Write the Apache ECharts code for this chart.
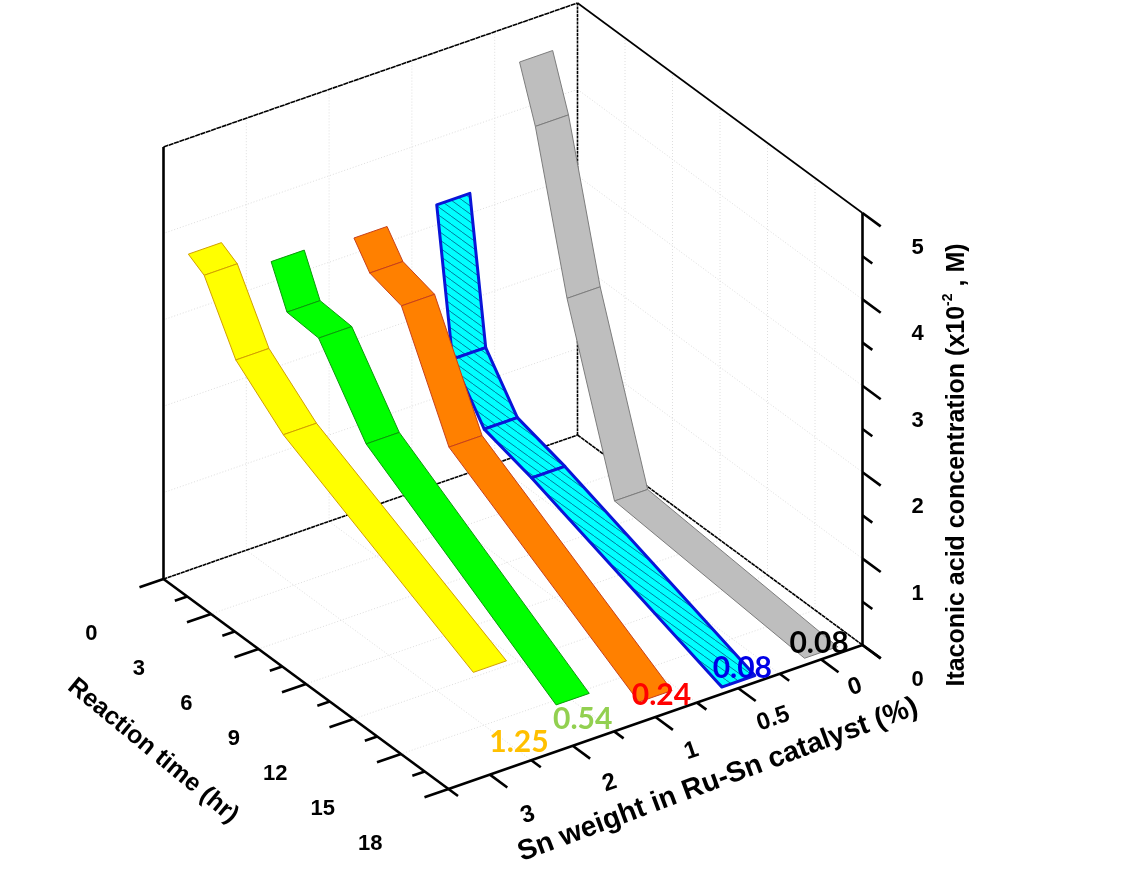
<!DOCTYPE html>
<html>
<head>
<meta charset="utf-8">
<style>html,body{margin:0;padding:0;background:#fff}#c{width:1122px;height:885px}</style>
<script src="https://cdn.jsdelivr.net/npm/echarts@6/dist/echarts.min.js"></script>
</head>
<body>
<div id="c"></div>
<script>
// ---- data ----
const timePoints = [0, 1, 3, 6, 18];
const snCategories = ['0', '0.5', '1', '2', '3'];
const concSn0 = [4.55, 3.94, 2.22, 0.28, 0.08];
const concSn05 = [3.23, 1.58, 1.04, 0.88, 0.08];
const concSn1 = [3.18, 2.91, 2.80, 1.57, 0.24];
const concSn2 = [3.24, 2.79, 2.76, 1.94, 0.54];
const concSn3 = [3.66, 3.55, 2.84, 2.38, 1.25];
const timeTicks = [0, 3, 6, 9, 12, 15, 18];
const concTicks = [0, 1, 2, 3, 4, 5];

// ---- projection of (time, Sn category position, concentration) on the page scale ----
const ORIGIN = [577.5, 435], T_SPAN = [285, 210], S_SPAN = [-414, 144], Z_UNIT = 86.4;
const T_MAX = 18, CAT_COUNT = snCategories.length, Z_MAX = 5;
const project = (t, c, z) => {
  const f = t / T_MAX, s = (c + 0.5) / CAT_COUNT;
  return [ORIGIN[0] + f * T_SPAN[0] + s * S_SPAN[0], ORIGIN[1] + f * T_SPAN[1] + s * S_SPAN[1] - z * Z_UNIT];
};
const C_MIN = -0.5, C_MAX = CAT_COUNT - 0.5, HALF_W = 0.2;
const BLACK = '#000';
const FONT = '"Liberation Sans", Arial, sans-serif';

function hatch() {
  const cv = document.createElement('canvas');
  cv.width = 11; cv.height = 8;
  const g = cv.getContext('2d');
  g.fillStyle = '#00FFFF'; g.fillRect(0, 0, 11, 8);
  g.strokeStyle = 'rgba(0,60,110,0.85)'; g.lineWidth = 0.8;
  g.beginPath(); g.moveTo(-11, -8); g.lineTo(22, 16); g.stroke();
  return cv;
}
const hatchFill = { image: hatch(), repeat: 'repeat' };

const ribbons = [
  { name: 'Sn 0', cat: 0, values: concSn0, fill: '#BEBEBE', stroke: '#7d7d7d', lw: 1, label: BLACK, off: [-2, -9] },
  { name: 'Sn 0.5', cat: 1, values: concSn05, fill: hatchFill, stroke: '#0A14D8', lw: 3, label: '#0000E6', off: [4, -13] },
  { name: 'Sn 1', cat: 2, values: concSn1, fill: '#FF8000', stroke: '#C8401A', lw: 1, label: '#FF0000', off: [6, -1] },
  { name: 'Sn 2', cat: 3, values: concSn2, fill: '#00FF00', stroke: '#0A9A0A', lw: 1, label: '#92D050', off: [10, 20] },
  { name: 'Sn 3', cat: 4, values: concSn3, fill: '#FFFF00', stroke: '#D2A000', lw: 1, label: '#FFC000', off: [29, 76] }
];

const line = (a, b, stroke, lineWidth, lineDash) => ({
  type: 'line', silent: true,
  shape: { x1: a[0], y1: a[1], x2: b[0], y2: b[1] },
  style: { stroke, lineWidth, lineDash: lineDash || null, fill: null }
});
const text = (str, p, size, rot, extra) => ({
  type: 'text', silent: true, x: p[0], y: p[1], rotation: (rot || 0) * Math.PI / 180,
  style: Object.assign({
    text: str, fill: BLACK, fontFamily: FONT, fontWeight: 'bold', fontSize: size,
    align: 'center', verticalAlign: 'middle'
  }, extra || {})
});

function renderGrid(params, api) {
  const P = (t, c, z) => api.coord(project(t, c, z));
  const kids = [], col = '#dedede', dash = [1, 2], w = 1;
  const L = (a, b) => kids.push(line(a, b, col, w, dash));
  const gridCats = [0, 1, 2, 3].map(i => i + 0.5);         // boundaries between categories
  timeTicks.slice(1, -1).forEach(t => {
    L(P(t, C_MIN, 0), P(t, C_MAX, 0));                     // floor
    L(P(t, C_MIN, 0), P(t, C_MIN, Z_MAX));                 // side wall
  });
  gridCats.forEach(c => {
    L(P(0, c, 0), P(T_MAX, c, 0));                         // floor
    L(P(0, c, 0), P(0, c, Z_MAX));                         // back wall
  });
  concTicks.slice(1, -1).forEach(z => {
    L(P(0, C_MIN, z), P(T_MAX, C_MIN, z));
    L(P(0, C_MIN, z), P(0, C_MAX, z));
  });
  return { type: 'group', children: kids };
}

function renderFrame(params, api) {
  const P = (t, c, z) => api.coord(project(t, c, z));
  const kids = [];
  const thin = 1.6, thick = 2.6;
  // box: back edges
  kids.push(line(P(0, C_MAX, 0), P(0, C_MIN, 0), BLACK, thin, [4, 0.6]));
  kids.push(line(P(0, C_MIN, 0), P(T_MAX, C_MIN, 0), BLACK, thin, [4, 0.6]));
  kids.push(line(P(0, C_MIN, 0), P(0, C_MIN, Z_MAX), BLACK, thin, [3, 0.8]));
  kids.push(line(P(0, C_MAX, 0), P(0, C_MAX, Z_MAX), BLACK, thick));
  kids.push(line(P(0, C_MAX, Z_MAX), P(0, C_MIN, Z_MAX), BLACK, thin, [5, 0.6]));
  kids.push(line(P(0, C_MIN, Z_MAX), P(T_MAX, C_MIN, Z_MAX), BLACK, thin));
  // front axes
  kids.push(line(P(0, C_MAX, 0), P(T_MAX, C_MAX, 0), BLACK, thick));
  kids.push(line(P(T_MAX, C_MAX, 0), P(T_MAX, C_MIN, 0), BLACK, thick));
  kids.push(line(P(T_MAX, C_MIN, 0), P(T_MAX, C_MIN, Z_MAX), BLACK, thick));
  // time ticks
  for (let t = 0; t <= T_MAX; t += 1.5) {
    const major = t % 3 === 0;
    kids.push(line(P(t, C_MAX, 0), P(t, C_MAX + (major ? 0.29 : 0.15), 0), BLACK, thick));
  }
  // Sn ticks: major at categories, minor at the boundaries
  for (let i = 0; i < CAT_COUNT; i++) {
    kids.push(line(P(T_MAX, i, 0), P(T_MAX + 1.1, i, 0), BLACK, thick));
    kids.push(line(P(T_MAX, i + 0.5, 0), P(T_MAX + 0.6, i + 0.5, 0), BLACK, thick));
  }
  kids.push(line(P(T_MAX, C_MIN, 0), P(T_MAX + 1.15, C_MIN, 0), BLACK, thick));
  // concentration ticks
  for (let z = 0; z <= Z_MAX; z += 0.5) {
    const major = z % 1 === 0;
    kids.push(line(P(T_MAX, C_MIN, z), P(T_MAX + (major ? 1.15 : 0.62), C_MIN, z), BLACK, thick));
  }
  return { type: 'group', children: kids };
}

function renderTexts(params, api) {
  const P = (t, c, z) => api.coord(project(t, c, z));
  const kids = [], size = 22;
  timeTicks.forEach(t => {
    const p = P(t, C_MAX, 0);
    kids.push(text(String(t), [p[0] - 66, p[1] + 55], size, 0, { align: 'right' }));
  });
  snCategories.forEach((c, i) => {
    const p = P(T_MAX, i, 0);
    kids.push(text(c, [p[0] + 36 + (i - 2), p[1] + 34 + (i - 2) * 3.2], 24, 19));
  });
  concTicks.forEach(z => {
    const p = P(T_MAX, C_MIN, z);
    kids.push(text(String(z), [p[0] + 55, p[1] + 35], size));
  });
  kids.push(text('Reaction time (hr)', api.coord([153, 751]), 25, -39.5));
  kids.push(text('Sn weight in Ru-Sn catalyst (%)', api.coord([718, 780]), 28.4, 20.4));
  kids.push(text('{a|Itaconic acid concentration (x10}{s|-2}{a| , M)}', api.coord([957, 465]), 25, 90, {
    rich: {
      a: { fontFamily: FONT, fontWeight: 'bold', fontSize: 25, fill: BLACK, lineHeight: 32 },
      s: { fontFamily: FONT, fontWeight: 'bold', fontSize: 14, fill: BLACK, verticalAlign: 'top', lineHeight: 32 }
    }
  }));
  return { type: 'group', children: kids };
}

function ribbonRenderer(r) {
  return function (params, api) {
    const i = params.dataIndex;
    if (i >= timePoints.length - 1) return null;
    const P = (t, c, z) => api.coord(project(t, c, z));
    const t0 = api.value(0), z0 = api.value(1), t1 = timePoints[i + 1], z1 = r.values[i + 1];
    const pts = [
      P(t0, r.cat - HALF_W, z0), P(t0, r.cat + HALF_W, z0),
      P(t1, r.cat + HALF_W, z1), P(t1, r.cat - HALF_W, z1)
    ];
    return {
      type: 'polygon', silent: true, shape: { points: pts },
      style: { fill: r.fill, stroke: r.stroke, lineWidth: r.lw, lineJoin: 'round' }
    };
  };
}
function labelRenderer(r) {
  return function (params, api) {
    const i = params.dataIndex;
    if (i !== timePoints.length - 1) return null;
    const p = api.coord(project(api.value(0), r.cat, api.value(1)));
    return text(api.value(1).toFixed(2), [p[0] + r.off[0], p[1] + r.off[1]], 30, 0, {
      fill: r.label, fontFamily: 'Lato, sans-serif'
    });
  };
}

const xy = r => timePoints.map((t, i) => [t, r.values[i]]);
const base = { type: 'custom', coordinateSystem: 'cartesian2d', clip: false, animation: false, silent: true, encode: { x: 0, y: 1 } };

const chart = echarts.init(document.getElementById('c'), null, { renderer: 'canvas', width: 1122, height: 885 });
chart.setOption({
  backgroundColor: '#fff',
  animation: false,
  tooltip: { show: false },
  grid: { left: 0, right: 0, top: 0, bottom: 0, containLabel: false },
  xAxis: { type: 'value', min: 0, max: 1122, show: false },
  yAxis: { type: 'value', min: 0, max: 885, inverse: true, show: false },
  series: [
    Object.assign({}, base, { name: 'grid', data: [[0, 0]], renderItem: renderGrid, z: 1 }),
    Object.assign({}, base, { name: 'frame', data: [[0, 0]], renderItem: renderFrame, z: 2 }),
    ...ribbons.map((r, k) => Object.assign({}, base, { name: r.name, data: xy(r), renderItem: ribbonRenderer(r), z: 3 + k })),
    Object.assign({}, base, { name: 'texts', data: [[0, 0]], renderItem: renderTexts, z: 10 }),
    ...ribbons.map(r => Object.assign({}, base, { name: r.name + ' end', data: xy(r), renderItem: labelRenderer(r), z: 11 }))
  ]
});
</script>
</body>
</html>
